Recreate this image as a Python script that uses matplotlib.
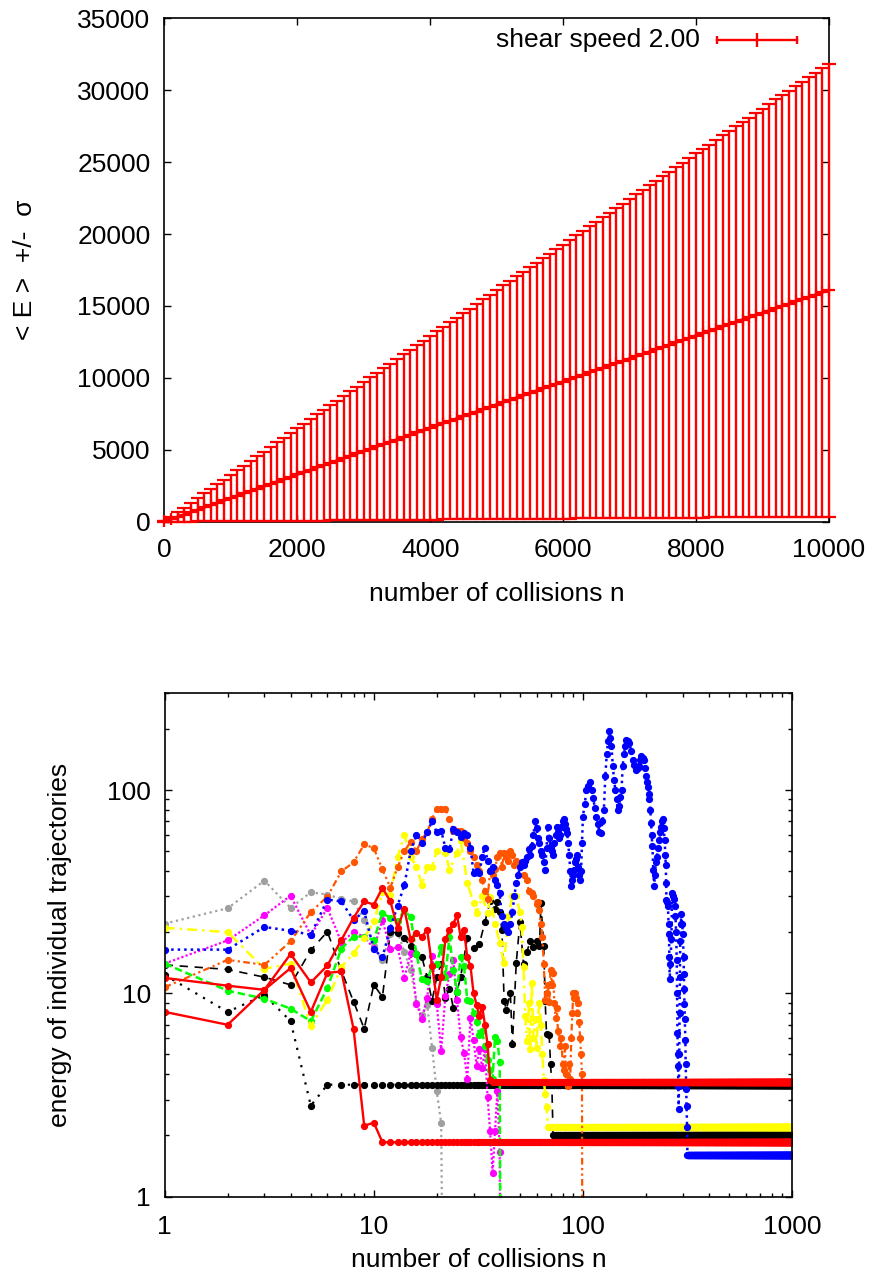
import numpy as np
import matplotlib
matplotlib.use("Agg")
import matplotlib.pyplot as plt
from matplotlib.ticker import FixedLocator, FuncFormatter, LogLocator, NullFormatter

plt.rcParams['font.family'] = ['Liberation Sans', 'DejaVu Sans']
plt.rcParams['font.size'] = 19

# ---------------- upper panel: mean energy +/- sigma ----------------
n_collisions = np.arange(0, 10001, 100)
mean_energy = [
    20, 160, 330, 490, 660, 820, 990, 1150, 1310, 1480,
    1640, 1810, 1970, 2130, 2300, 2460, 2620, 2790, 2950, 3110,
    3280, 3440, 3600, 3770, 3930, 4090, 4250, 4420, 4580, 4740,
    4900, 5070, 5230, 5390, 5550, 5710, 5880, 6040, 6200, 6360,
    6520, 6690, 6850, 7010, 7170, 7330, 7490, 7650, 7820, 7980,
    8140, 8300, 8460, 8620, 8780, 8940, 9100, 9260, 9420, 9580,
    9740, 9900, 10060, 10220, 10380, 10540, 10700, 10860, 11020, 11180,
    11340, 11500, 11660, 11820, 11980, 12140, 12300, 12460, 12620, 12780,
    12940, 13090, 13250, 13410, 13570, 13730, 13890, 14050, 14200, 14360,
    14520, 14680, 14840, 15000, 15150, 15310, 15470, 15630, 15780, 15940,
    16100,
]
sigma_energy = [
    10, 160, 320, 480, 650, 800, 970, 1130, 1280, 1450,
    1600, 1770, 1930, 2080, 2250, 2410, 2560, 2730, 2890, 3040,
    3210, 3370, 3520, 3690, 3850, 4000, 4160, 4330, 4480, 4640,
    4790, 4960, 5120, 5270, 5430, 5590, 5750, 5910, 6070, 6220,
    6380, 6550, 6700, 6860, 7020, 7170, 7330, 7490, 7650, 7810,
    7960, 8120, 8280, 8430, 8590, 8750, 8900, 9060, 9220, 9370,
    9530, 9690, 9840, 10000, 10160, 10310, 10470, 10630, 10780, 10940,
    11090, 11250, 11410, 11560, 11720, 11880, 12030, 12190, 12350, 12500,
    12660, 12810, 12960, 13120, 13280, 13430, 13590, 13750, 13890, 14050,
    14200, 14360, 14520, 14670, 14820, 14980, 15130, 15290, 15440, 15590,
    15750,
]
series_label = "shear speed 2.00"

# ---------------- lower panel: individual trajectories ----------------
# each trajectory: collision numbers, energies, and the constant energy it
# settles to (tail_level from tail_start up to n = 1000), or None if it dies
gray_n = list(range(1, 23))
gray_e = [22, 26.2, 35.8, 26.3, 31.4, 30.6, 29.1, 28.3, 23, 17, 14.5, 19.5,
          20, 16, 13, 9, 7.8, 8.8, 5.4, 3.3, 2.3, 0.01]

black_dot_n = [1, 2, 3, 4, 5]
black_dot_e = [12.3, 8.1, 9.8, 7.3, 2.8]
black_dot_tail = (3.55, 6)

black_dash_n = [1, 2, 3, 4, 5, 6, 7, 8, 9, 10, 11, 12, 13, 14, 15, 16, 17, 18,
                19, 20, 21, 22, 23, 24, 25, 26, 28, 30, 32, 34, 36, 38, 39, 40,
                41, 42, 43, 45, 46, 48, 50, 52, 54, 56, 58, 60, 62, 63, 65, 66,
                67, 69, 70, 71]
black_dash_e = [13.8, 13.1, 12, 11, 16.3, 20.1, 12.9, 9.1, 6.7, 11, 9.6, 20,
                19.8, 18.6, 17, 15.6, 15, 12, 9.2, 12, 14, 9.5, 10.5, 8.5, 10.2,
                12, 18.6, 16.7, 17.5, 22.4, 28.3, 26, 28, 25, 20.5, 9.2, 8.3, 10,
                5.6, 14.1, 22.4, 13.9, 16, 18.1, 16.8, 18, 17, 27.7, 17, 9.2,
                6.3, 6.2, 4.5, 3.6]
black_dash_tail = (2.0, 72)

magenta_n = list(range(1, 42))
magenta_e = [14, 18.2, 24.2, 30.2, 19.3, 26.3, 17.8, 20, 19, 16.6, 22.9,
             16.5, 16.8, 11.9, 15.7, 8.9, 7.5, 9.5, 15.3, 8.9, 5.2, 9.7, 12.4,
             14.5, 9.3, 6.1, 5.1, 3.8, 7.6, 5.9, 4.4, 5.3, 4.3, 5.3, 3.1, 2.1,
             1.3, 2.1, 3.3, 1.65, 0.01]

green_n = list(range(1, 42))
green_e = [14, 10.3, 9.4, 8.4, 7.3, 10.6, 16.6, 19, 19, 18.3, 24.8, 23.5,
           22.6, 25.7, 23.6, 15.6, 11.7, 11.5, 13.6, 14, 16.8, 12, 19, 13,
           10.2, 15, 13.6, 9.3, 9.2, 8, 7.2, 6.2, 6.5, 5.5, 4.7, 4.2, 3.8, 6.1,
           5.8, 4.6, 0.01]

yellow_n = [1, 2, 3, 4, 5, 6, 7, 8, 9, 10, 11, 12, 13, 14, 15, 16, 17, 18, 19,
            20, 22, 23, 25, 26, 28, 30, 31, 33, 35, 36, 38, 40, 42, 44, 46, 48,
            50, 51, 52, 53, 54, 55, 56, 57, 58, 59, 60, 61, 62, 63, 64, 65, 66,
            67]
yellow_e = [21, 20, 13.2, 14, 6.9, 9.3, 13.5, 15.7, 18.7, 22.6, 31.4, 30.6,
            47, 60, 47, 42, 34, 42, 42, 50, 49, 40.6, 49, 57, 35, 27.8, 24.8,
            30, 24.8, 29.8, 22, 17.7, 14.1, 24, 30, 30, 25, 21.3, 13.5, 7.7,
            5.8, 9, 5.3, 11.2, 6, 7.5, 5.4, 7.5, 9, 7, 5, 3.75, 3.2, 2.77]
yellow_tail = (2.2, 68)

orange_n = [1, 2, 3, 4, 5, 6, 7, 8, 9, 10, 11, 12, 13, 14, 15, 16, 17, 18, 19,
            20, 21, 22, 23, 24, 25, 26, 27, 28, 29, 30, 31, 32, 33, 34, 35, 36,
            37, 38, 39, 40, 41, 42, 43, 44, 45, 46, 47, 48, 50, 52, 54, 55, 57,
            58, 60, 61, 62, 63, 64, 65, 66, 67, 68, 69, 70, 71, 72, 73, 74, 75,
            76, 78, 79, 80, 81, 82, 83, 84, 85, 86, 87, 88, 89, 90, 91, 92, 93,
            94, 95, 96, 97, 98, 99, 100]
orange_e = [10.7, 14.6, 13.8, 18, 25.1, 29.9, 39.8, 44, 54, 51.8, 40.7, 33.1,
            41.7, 50, 55.7, 50, 57.5, 62, 72, 81, 81, 81, 72, 63, 63, 63, 58,
            55, 50, 47, 43, 40, 36, 32, 29, 40, 38, 41, 47, 49, 42, 49, 47, 45,
            50, 48, 43, 45, 42.7, 38, 36, 32, 31, 30, 27.6, 28, 25.7, 22, 19,
            14, 9.3, 10, 11, 9.1, 13, 11, 12.6, 9, 7.6, 8.5, 6.5, 5.5, 6, 4.5,
            4.2, 5.5, 4, 3.6, 3.5, 4.5, 3.8, 6, 8, 10, 9.5, 10, 9.5, 8, 9, 7.2,
            6, 5, 4, 0.01]

blue_n = list(range(1, 101)) + [
    102, 104, 106, 108, 110, 112, 114, 116, 118, 120, 122, 124, 126, 128, 130,
    132, 134, 135, 137, 139, 141, 143, 145, 147, 149, 151, 153, 155, 157, 159,
    161, 164, 167, 170, 173, 176, 180, 183, 186, 188, 190, 193, 195, 198, 200,
    202, 204, 206, 208, 210, 212, 213, 215, 217, 219, 221, 223, 226, 229, 232,
    235, 237, 239, 241, 243, 246, 248, 249, 250, 251, 253, 255, 257, 258, 259,
    260, 262, 265, 267, 270, 273, 275, 277, 279, 281, 282, 283, 284, 285, 286,
    287, 288, 289, 290, 291, 292, 294, 296, 298, 301, 303, 304, 305, 306, 307,
    309, 310, 312, 313, 315]
blue_e = [
    16.4, 16.4, 21.2, 20.3, 19.4, 28.9, 28.3, 22.9, 25.3, 16.5,
    15, 21, 27, 34, 50, 60, 55, 62, 70, 62,
    63, 52, 51, 64, 62, 59, 61.5, 60, 52, 39,
    40, 39, 47, 52, 45, 40, 42, 36, 34, 31,
    24, 22, 21, 20, 22, 25, 30, 35, 38, 42,
    44, 43, 45, 47, 51, 48, 53, 60, 70, 65,
    58, 55, 50, 48, 44, 40.6, 52, 66, 58, 53,
    50, 48, 55, 60, 66, 62, 58, 60, 66, 70,
    72, 68, 64, 61.5, 55, 48, 40, 33.6, 36, 38,
    40.6, 44, 46, 48, 42, 38, 36, 40, 55, 74,
    85, 100, 105, 109, 100, 91, 82, 74, 68, 62, 61.5, 70, 80, 117, 150,
    175, 195, 180, 164, 131, 112, 100, 90, 80, 83, 92, 100, 131, 150, 164,
    177, 175, 171, 155, 141, 133, 126, 128, 131, 140, 147, 144, 141, 128, 117,
    110, 104, 96, 90, 80, 69, 60, 53, 40.6, 33.6, 38, 44, 47, 52, 57,
    62, 66, 70, 72, 65, 57, 48, 43, 35, 28.9, 28, 26.8, 22, 19.6, 15,
    11.7, 14, 18.4, 31.2, 30, 29, 27, 24, 20, 14.6, 10, 6.4, 5, 4.4, 3.5,
    2.7, 3.5, 5, 8, 12, 18, 22, 24.5, 22, 19.6, 15, 12.5, 10.5, 8.9, 7.5,
    5.9, 4.5, 3.4, 2.8, 2.2]
blue_tail = (1.6, 316)

red_b_n = list(range(1, 11))
red_b_e = [8.1, 7.0, 10.4, 13.3, 8.1, 12.6, 12.8, 6.7, 2.23, 2.31]
red_b_tail = (1.85, 11)

red_a_n = list(range(1, 37))
red_a_e = [11.9, 10.9, 10.4, 15.6, 11.3, 13.7, 18.3, 23.5, 28.3, 27.3, 33,
           28.3, 21, 26, 18.4, 19.8, 19, 20.5, 13.6, 9.3, 12, 18.4, 20.5, 22,
           24.2, 19, 20.5, 15, 13.6, 10, 8.8, 7.7, 8.6, 7, 5.6, 3.75]
red_a_tail = (3.65, 37)

N_MAX = 1000

fig = plt.figure(figsize=(8.74, 12.77), dpi=100)

tick_kw = dict(direction='in', top=True, right=True, width=1.0)

# ---- upper panel ----
ax1 = fig.add_axes([0.188, 0.5915, 0.7605, 0.3942])
cont = ax1.errorbar(n_collisions, mean_energy, yerr=sigma_energy,
                    color='#ff0000', lw=2.0, elinewidth=1.7, capsize=5,
                    capthick=1.8, marker='+', ms=9, mew=1.6, zorder=3)
for artist in [cont[0], *cont[1], *cont[2]]:
    artist.set_clip_on(False)
ax1.set_xlim(0, 10000)
ax1.set_ylim(0, 35000)
ax1.xaxis.set_major_locator(FixedLocator(np.arange(0, 10001, 2000)))
ax1.yaxis.set_major_locator(FixedLocator(np.arange(0, 35001, 5000)))
ax1.tick_params(which='major', length=5, **tick_kw)
ax1.tick_params(axis='x', pad=12)
ax1.tick_params(axis='y', pad=10)
ax1.set_xlabel("number of collisions n", labelpad=14)
ax1.set_ylabel("< E >  +/-  \u03c3", labelpad=29)
for s in ax1.spines.values():
    s.set_linewidth(1.2)

# key drawn in the upper right corner
ax1.text(0.806, 0.957, series_label, transform=ax1.transAxes,
         ha='right', va='center')
key_tr = ax1.transAxes
ax1.plot([0.8315, 0.952], [0.957, 0.957], color='#ff0000', lw=1.7,
         transform=key_tr)
ax1.plot([0.8315, 0.952], [0.957, 0.957], color='#ff0000', lw=0,
         marker='|', ms=6, mew=1.7, transform=key_tr)
ax1.plot([0.8917], [0.957], color='#ff0000', marker='|', ms=10, mew=1.7,
         transform=key_tr)

# ---- lower panel ----
ax2 = fig.add_axes([0.1884, 0.0630, 0.7178, 0.3943])
ax2.set_xscale('log')
ax2.set_yscale('log')


def trajectory(ns, es, tail):
    ns = list(ns)
    es = list(es)
    if tail is not None:
        level, start = tail
        t = np.arange(start, N_MAX + 1)
        ns += list(t)
        es += [level] * len(t)
    return np.array(ns, dtype=float), np.array(es, dtype=float)


styles = [
    (gray_n, gray_e, None, '#a0a0a0', (0, (1, 1.6)), 1.6),
    (black_dot_n, black_dot_e, black_dot_tail, '#000000', (0, (1, 3)), 1.6),
    (black_dash_n, black_dash_e, black_dash_tail, '#000000', (0, (5, 4)), 1.2),
    (magenta_n, magenta_e, None, '#ff00ff', (0, (1, 1)), 1.6),
    (green_n, green_e, None, '#00ff00', (0, (3, 1.5)), 1.8),
    (yellow_n, yellow_e, yellow_tail, '#ffff00', (0, (4, 2, 1, 2)), 1.8),
    (orange_n, orange_e, None, '#ff5500', (0, (3, 1.5, 1, 1.5, 1, 1.5)), 1.6),
    (blue_n, blue_e, blue_tail, '#0000ff', (0, (1, 1.6)), 1.8),
    (red_b_n, red_b_e, red_b_tail, '#ff0000', '-', 1.7),
    (red_a_n, red_a_e, red_a_tail, '#ff0000', '-', 1.7),
]
for ns, es, tail, col, ls, lw in styles:
    x, y = trajectory(ns, es, tail)
    ax2.plot(x, y, color=col, linestyle=ls, lw=lw, marker='o', ms=4.2,
             mec=col, mfc=col)

ax2.set_xlim(1, 1000)
ax2.set_ylim(1, 300)
plain = FuncFormatter(lambda v, p: "%d" % round(v))
ax2.xaxis.set_major_locator(FixedLocator([1, 10, 100, 1000]))
ax2.yaxis.set_major_locator(FixedLocator([1, 10, 100]))
ax2.xaxis.set_major_formatter(plain)
ax2.yaxis.set_major_formatter(plain)
ax2.xaxis.set_minor_locator(LogLocator(base=10, subs=np.arange(2, 10)))
ax2.yaxis.set_minor_locator(LogLocator(base=10, subs=np.arange(2, 10)))
ax2.xaxis.set_minor_formatter(NullFormatter())
ax2.yaxis.set_minor_formatter(NullFormatter())
ax2.tick_params(which='major', length=5, **tick_kw)
ax2.tick_params(which='minor', length=3, **tick_kw)
ax2.tick_params(axis='x', which='major', pad=13)
ax2.tick_params(axis='y', which='major', pad=10)
ax2.set_xlabel("number of collisions n", labelpad=7)
ax2.set_ylabel("energy of individual trajectories", labelpad=25)
for s in ax2.spines.values():
    s.set_linewidth(1.2)

fig.savefig("out.png", dpi=100)
